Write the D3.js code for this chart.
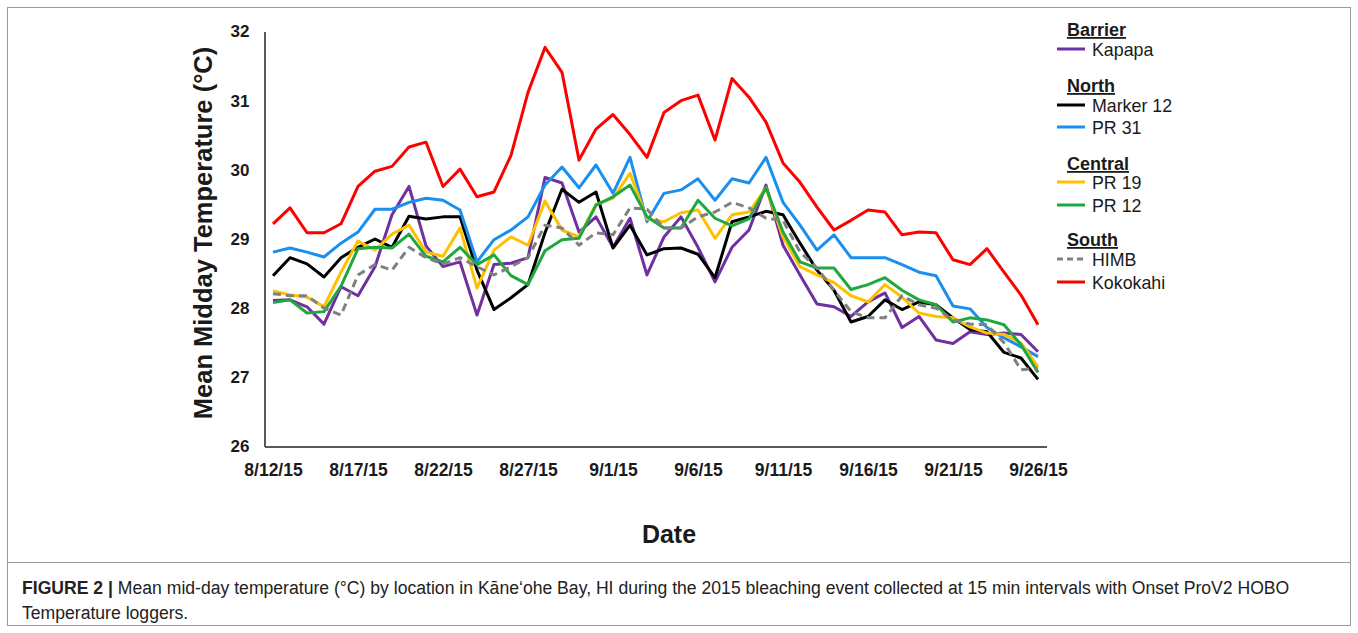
<!DOCTYPE html>
<html><head><meta charset="utf-8">
<script src="https://cdn.jsdelivr.net/npm/d3@7"></script>
<style>
html,body{margin:0;padding:0;background:#fff;}
svg{display:block;}
text{font-family:"Liberation Sans",Arial,sans-serif;}
</style></head>
<body>
<svg id="chart" width="1358" height="633"></svg>
<script>
// ---- data ----
const dates = ["8/12/15","8/13/15","8/14/15","8/15/15","8/16/15","8/17/15","8/18/15","8/19/15","8/20/15","8/21/15",
"8/22/15","8/23/15","8/24/15","8/25/15","8/26/15","8/27/15","8/28/15","8/29/15","8/30/15","8/31/15",
"9/1/15","9/2/15","9/3/15","9/4/15","9/5/15","9/6/15","9/7/15","9/8/15","9/9/15","9/10/15",
"9/11/15","9/12/15","9/13/15","9/14/15","9/15/15","9/16/15","9/17/15","9/18/15","9/19/15","9/20/15",
"9/21/15","9/22/15","9/23/15","9/24/15","9/25/15","9/26/15"];
const tickLabels = ["8/12/15","8/17/15","8/22/15","8/27/15","9/1/15","9/6/15","9/11/15","9/16/15","9/21/15","9/26/15"];
const yTicks = [26,27,28,29,30,31,32];

const kapapa = [28.11,28.12,28.02,27.77,28.31,28.18,28.60,29.35,29.76,28.90,28.60,28.67,27.90,28.63,28.65,28.73,29.89,29.81,29.10,29.32,
28.88,29.30,28.48,29.03,29.32,28.88,28.38,28.88,29.13,29.78,28.91,28.48,28.06,28.02,27.88,28.09,28.22,27.72,27.88,27.54,
27.49,27.66,27.62,27.64,27.62,27.37];
const marker12 = [28.47,28.73,28.64,28.45,28.73,28.88,29.00,28.88,29.33,29.29,29.32,29.32,28.55,27.98,28.15,28.34,29.09,29.72,29.53,29.68,
28.87,29.20,28.77,28.86,28.87,28.78,28.44,29.25,29.32,29.40,29.35,28.94,28.55,28.26,27.80,27.88,28.12,27.98,28.09,28.05,
27.86,27.69,27.66,27.36,27.28,26.97];
const pr31 = [28.81,28.87,28.81,28.74,28.94,29.10,29.43,29.43,29.53,29.59,29.56,29.42,28.67,28.99,29.13,29.32,29.78,30.04,29.74,30.07,
29.66,30.18,29.25,29.66,29.71,29.87,29.56,29.87,29.81,30.18,29.53,29.20,28.84,29.06,28.73,28.73,28.73,28.63,28.52,28.47,
28.03,27.99,27.72,27.57,27.44,27.30];
const pr19 = [28.25,28.19,28.16,28.02,28.52,28.97,28.84,29.07,29.20,28.81,28.75,29.16,28.29,28.84,29.03,28.91,29.55,29.13,29.03,29.50,
29.59,29.95,29.29,29.25,29.38,29.42,29.01,29.35,29.39,29.74,29.03,28.60,28.48,28.37,28.18,28.09,28.34,28.16,27.93,27.88,
27.86,27.73,27.64,27.62,27.50,27.15];
const pr12 = [28.08,28.12,27.93,27.95,28.32,28.86,28.88,28.87,29.07,28.75,28.67,28.88,28.63,28.77,28.47,28.34,28.83,28.99,29.01,29.49,
29.61,29.78,29.32,29.16,29.16,29.56,29.30,29.19,29.29,29.74,29.10,28.67,28.58,28.58,28.27,28.34,28.44,28.26,28.12,28.05,
27.80,27.86,27.83,27.76,27.47,27.07];
const himb = [28.21,28.18,28.18,28.00,27.90,28.48,28.63,28.55,28.88,28.73,28.64,28.73,28.60,28.48,28.60,28.73,29.20,29.16,28.91,29.09,
29.06,29.45,29.43,29.16,29.16,29.32,29.39,29.53,29.45,29.30,29.27,28.81,28.58,28.26,27.95,27.86,27.86,28.18,28.05,28.00,
27.83,27.77,27.76,27.50,27.11,27.13];
const kokokahi = [29.22,29.45,29.09,29.09,29.22,29.76,29.98,30.05,30.33,30.40,29.76,30.01,29.61,29.68,30.21,31.12,31.77,31.41,30.14,30.59,
30.80,30.51,30.18,30.83,31.00,31.08,30.43,31.32,31.05,30.69,30.10,29.82,29.46,29.13,29.27,29.42,29.39,29.06,29.10,29.09,
28.70,28.63,28.86,28.52,28.19,27.76];

const seriesNames = ["Kapapa","Marker 12","PR 31","PR 19","PR 12","HIMB","Kokokahi"];
const seriesValues = [kapapa, marker12, pr31, pr19, pr12, himb, kokokahi];
const seriesColors = ["#7030a0","#000000","#1a8ff0","#ffc000","#1fa83f","#808080","#ff0000"];
const seriesDash = [null,null,null,null,null,"8,5",null];
const groups = [
  {title:"Barrier", items:[0]},
  {title:"North", items:[1,2]},
  {title:"Central", items:[3,4]},
  {title:"South", items:[5,6]}
];

// ---- layout ----
const svg = d3.select("#chart");
const x0 = 264.5, x1 = 1046.5, yTop = 31.5, yBot = 446.5;
const x = d3.scaleLinear().domain([-0.5, dates.length - 0.5]).range([x0, x1]);
const y = d3.scaleLinear().domain([26, 32]).range([yBot, yTop]);

// frame
svg.append("rect").attr("x",7.5).attr("y",7.5).attr("width",1343).attr("height",618)
  .attr("fill","none").attr("stroke","#9a9a9a").attr("stroke-width",1);
svg.append("line").attr("x1",7.5).attr("x2",1350.5).attr("y1",562.5).attr("y2",562.5)
  .attr("stroke","#9a9a9a").attr("stroke-width",1);

// axes
const yAxis = d3.axisLeft(y).tickValues(yTicks).tickSize(0).tickPadding(15).tickFormat(d3.format("d"));
const gy = svg.append("g").attr("transform",`translate(${x0},0)`).call(yAxis);
gy.select(".domain").attr("stroke","#595959").attr("stroke-width",2);
gy.selectAll("text").attr("font-size",17).attr("font-weight","bold").attr("fill","#1a1a1a")
  .attr("font-family","'Liberation Sans',Arial,sans-serif");

const tickIdx = tickLabels.map(t => dates.indexOf(t));
const xAxis = d3.axisBottom(x).tickValues(tickIdx).tickSize(0).tickPadding(17)
  .tickFormat(i => dates[i]);
const gx = svg.append("g").attr("transform",`translate(0,${yBot})`).call(xAxis);
gx.select(".domain").attr("stroke","#595959").attr("stroke-width",2);
gx.selectAll("text").attr("font-size",17.5).attr("font-weight","bold").attr("fill","#1a1a1a")
  .attr("font-family","'Liberation Sans',Arial,sans-serif");

// lines
const line = d3.line().x((d,i)=>x(i)).y(d=>y(d));
seriesValues.forEach((vals, k) => {
  svg.append("path").datum(vals).attr("d", line)
    .attr("fill","none").attr("stroke", seriesColors[k]).attr("stroke-width",3)
    .attr("stroke-linejoin","round")
    .attr("stroke-dasharray", seriesDash[k]);
});

// axis titles
svg.append("text").attr("transform","translate(212,233) rotate(-90)")
  .attr("text-anchor","middle").attr("font-size",25.5).attr("font-weight","bold").attr("fill","#1a1a1a")
  .text("Mean Midday Temperature (°C)");
svg.append("text").attr("x",669).attr("y",543).attr("text-anchor","middle")
  .attr("font-size",25).attr("font-weight","bold").attr("fill","#1a1a1a").text("Date");

// legend
const headerY = [36, 92, 170, 246];
const itemY = [[50],[106,128],[183,206],[260,283]];
groups.forEach((g, gi) => {
  svg.append("text").attr("x",1067).attr("y",headerY[gi]).attr("font-size",18).attr("font-weight","bold")
    .attr("fill","#1a1a1a").attr("text-decoration","underline").text(g.title);
  g.items.forEach((si, j) => {
    const yy = itemY[gi][j];
    svg.append("line").attr("x1",1057).attr("x2",1085).attr("y1",yy-1).attr("y2",yy-1)
      .attr("stroke",seriesColors[si]).attr("stroke-width",3).attr("stroke-dasharray", seriesDash[si] ? "6,4" : null);
    svg.append("text").attr("x",1092).attr("y",yy+6).attr("font-size",17.8).attr("fill","#1a1a1a")
      .text(seriesNames[si]);
  });
});

// caption
const cap = svg.append("text").attr("x",22).attr("y",594).attr("font-size",17.6).attr("fill","#222");
cap.append("tspan").attr("font-weight","bold").text("FIGURE 2 | ");
cap.append("tspan").text("Mean mid-day temperature (°C) by location in Kāneʻohe Bay, HI during the 2015 bleaching event collected at 15 min intervals with Onset ProV2 HOBO");
svg.append("text").attr("x",22).attr("y",619).attr("font-size",17.6).attr("fill","#222").text("Temperature loggers.");
</script>
</body></html>
